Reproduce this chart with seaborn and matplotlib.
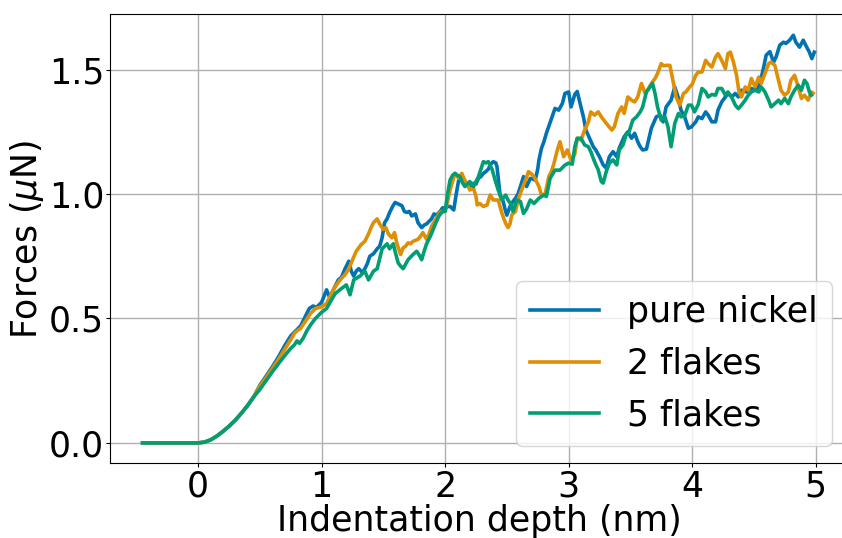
"""
Nanoindentation force-depth curves for pure nickel vs. graphene-flake samples.
"""

import matplotlib
matplotlib.use("Agg")
import matplotlib.pyplot as plt
import pandas as pd
import seaborn as sns

OUTPUT_PATH = "out.png"

# shared elastic onset (all three curves overlap here)
ONSET_X = [-0.45, -0.2, 0.0, 0.05, 0.1, 0.15, 0.2, 0.25, 0.3, 0.35, 0.4, 0.45]
ONSET_Y = [0.0, 0.0, 0.0, 0.003, 0.012, 0.027, 0.046, 0.067, 0.091, 0.119, 0.15, 0.185]

NICKEL_X = [
    0.5, 0.55, 0.6, 0.65, 0.7, 0.75, 0.8, 0.83, 0.87, 0.9, 0.93, 0.96, 1.0,
    1.04, 1.06, 1.08, 1.11, 1.135, 1.16, 1.19, 1.22, 1.24, 1.26, 1.28, 1.3,
    1.33, 1.35, 1.37, 1.39, 1.42, 1.45, 1.47, 1.49, 1.51, 1.53, 1.55, 1.575,
    1.595, 1.62, 1.65, 1.67, 1.69, 1.71, 1.73, 1.76, 1.78, 1.81, 1.83, 1.85,
    1.87, 1.89, 1.91, 1.93, 1.96, 1.98, 2.0, 2.02, 2.04, 2.07, 2.09, 2.11,
    2.135, 2.16, 2.18, 2.2, 2.23, 2.25, 2.27, 2.29, 2.31, 2.33, 2.35, 2.37,
    2.39, 2.41, 2.42, 2.445, 2.47, 2.49, 2.5, 2.53, 2.55, 2.57, 2.59, 2.61,
    2.635, 2.66, 2.69, 2.71, 2.73, 2.75, 2.76, 2.78, 2.8, 2.82, 2.845, 2.865,
    2.89, 2.92, 2.95, 2.97, 3.0, 3.02, 3.05, 3.07, 3.09, 3.12, 3.14, 3.17,
    3.2, 3.22, 3.25, 3.28, 3.305, 3.33, 3.36, 3.39, 3.41, 3.45, 3.48, 3.51,
    3.535, 3.56, 3.58, 3.6, 3.63, 3.67, 3.71, 3.74, 3.765, 3.79, 3.83, 3.86,
    3.89, 3.91, 3.94, 3.97, 3.995, 4.03, 4.05, 4.08, 4.11, 4.13, 4.16, 4.19,
    4.21, 4.24, 4.27, 4.29, 4.32, 4.35, 4.375, 4.4, 4.44, 4.48, 4.52, 4.55,
    4.58, 4.6, 4.63, 4.66, 4.68, 4.71, 4.74, 4.76, 4.79, 4.82, 4.84, 4.87,
    4.9, 4.92, 4.95, 4.97, 4.99,
]
NICKEL_Y = [
    0.232, 0.268, 0.305, 0.345, 0.39, 0.43, 0.455, 0.47, 0.51, 0.54, 0.55,
    0.545, 0.565, 0.615, 0.59, 0.6, 0.63, 0.655, 0.665, 0.7, 0.73, 0.69, 0.67,
    0.69, 0.7, 0.685, 0.7, 0.72, 0.75, 0.76, 0.78, 0.79, 0.825, 0.885, 0.9,
    0.925, 0.95, 0.966, 0.96, 0.953, 0.93, 0.926, 0.93, 0.912, 0.92, 0.885,
    0.865, 0.875, 0.88, 0.89, 0.9, 0.92, 0.915, 0.93, 0.945, 0.94, 0.95, 0.95,
    0.936, 1.0, 1.056, 1.063, 1.05, 1.04, 1.03, 1.043, 1.04, 1.063, 1.07,
    1.083, 1.09, 1.1, 1.12, 1.13, 1.125, 1.11, 0.996, 0.97, 0.93, 0.915,
    0.956, 0.97, 0.983, 1.0, 1.03, 1.07, 1.03, 1.063, 1.06, 1.056, 1.1, 1.137,
    1.183, 1.21, 1.244, 1.28, 1.31, 1.344, 1.337, 1.364, 1.404, 1.41, 1.35,
    1.4, 1.412, 1.37, 1.31, 1.257, 1.224, 1.19, 1.177, 1.15, 1.117, 1.104,
    1.15, 1.17, 1.15, 1.184, 1.23, 1.25, 1.224, 1.244, 1.21, 1.19, 1.177,
    1.18, 1.264, 1.31, 1.317, 1.29, 1.35, 1.377, 1.43, 1.384, 1.337, 1.31,
    1.264, 1.27, 1.29, 1.31, 1.303, 1.33, 1.317, 1.29, 1.29, 1.337, 1.37,
    1.39, 1.404, 1.39, 1.404, 1.39, 1.417, 1.41, 1.424, 1.417, 1.444, 1.51,
    1.558, 1.572, 1.53, 1.55, 1.598, 1.61, 1.605, 1.618, 1.638, 1.61, 1.59,
    1.618, 1.598, 1.57, 1.544, 1.57,
]

FLAKES2_X = [
    0.5, 0.55, 0.6, 0.65, 0.7, 0.75, 0.78, 0.8, 0.83, 0.87, 0.91, 0.95, 1.0,
    1.04, 1.07, 1.095, 1.12, 1.15, 1.19, 1.22, 1.24, 1.28, 1.32, 1.35, 1.38,
    1.4, 1.42, 1.45, 1.47, 1.5, 1.52, 1.54, 1.57, 1.59, 1.61, 1.64, 1.66,
    1.68, 1.7, 1.72, 1.74, 1.78, 1.8, 1.82, 1.85, 1.87, 1.89, 1.92, 1.95,
    1.97, 2.0, 2.02, 2.04, 2.06, 2.08, 2.11, 2.135, 2.155, 2.175, 2.2, 2.23,
    2.25, 2.26, 2.28, 2.31, 2.34, 2.365, 2.39, 2.43, 2.46, 2.49, 2.51, 2.525,
    2.54, 2.57, 2.595, 2.615, 2.635, 2.655, 2.675, 2.7, 2.72, 2.74, 2.76,
    2.78, 2.81, 2.84, 2.86, 2.88, 2.905, 2.93, 2.96, 2.99, 3.02, 3.05, 3.07,
    3.1, 3.13, 3.16, 3.18, 3.21, 3.24, 3.265, 3.305, 3.35, 3.37, 3.4, 3.43,
    3.45, 3.48, 3.51, 3.535, 3.56, 3.59, 3.62, 3.64, 3.67, 3.7, 3.72, 3.75,
    3.77, 3.79, 3.82, 3.85, 3.87, 3.9, 3.93, 3.95, 3.98, 4.0, 4.03, 4.05,
    4.08, 4.11, 4.13, 4.16, 4.19, 4.21, 4.24, 4.27, 4.29, 4.31, 4.335, 4.36,
    4.38, 4.4, 4.43, 4.455, 4.48, 4.51, 4.54, 4.56, 4.59, 4.62, 4.64, 4.67,
    4.7, 4.72, 4.75, 4.78, 4.8, 4.83, 4.86, 4.885, 4.91, 4.94, 4.965, 4.98,
]
FLAKES2_Y = [
    0.228, 0.262, 0.298, 0.335, 0.375, 0.415, 0.44, 0.45, 0.46, 0.49, 0.52,
    0.54, 0.547, 0.56, 0.59, 0.615, 0.635, 0.655, 0.676, 0.7, 0.723, 0.77,
    0.797, 0.81, 0.84, 0.865, 0.885, 0.9, 0.88, 0.858, 0.865, 0.84, 0.824,
    0.845, 0.8, 0.757, 0.784, 0.79, 0.804, 0.8, 0.81, 0.818, 0.83, 0.845,
    0.818, 0.84, 0.87, 0.895, 0.92, 0.93, 0.93, 0.97, 1.016, 1.05, 1.083,
    1.063, 1.083, 1.06, 1.043, 1.016, 1.023, 0.99, 0.956, 0.962, 0.95, 0.956,
    0.996, 0.976, 0.976, 0.922, 0.882, 0.865, 0.88, 0.916, 0.93, 0.983, 1.01,
    1.036, 1.06, 1.09, 1.08, 1.07, 1.05, 1.03, 0.996, 1.0, 1.07, 1.09, 1.12,
    1.17, 1.21, 1.15, 1.177, 1.137, 1.16, 1.224, 1.217, 1.257, 1.29, 1.33,
    1.317, 1.33, 1.31, 1.284, 1.257, 1.27, 1.324, 1.35, 1.324, 1.39, 1.377,
    1.37, 1.39, 1.444, 1.404, 1.417, 1.444, 1.464, 1.484, 1.524, 1.515, 1.517,
    1.517, 1.444, 1.39, 1.357, 1.404, 1.41, 1.43, 1.44, 1.477, 1.49, 1.49,
    1.537, 1.524, 1.51, 1.55, 1.564, 1.537, 1.504, 1.564, 1.57, 1.53, 1.477,
    1.41, 1.39, 1.43, 1.417, 1.464, 1.43, 1.47, 1.444, 1.484, 1.524, 1.53,
    1.517, 1.457, 1.417, 1.397, 1.41, 1.457, 1.477, 1.43, 1.384, 1.397, 1.377,
    1.41, 1.405,
]

FLAKES5_X = [
    0.5, 0.55, 0.6, 0.65, 0.7, 0.75, 0.78, 0.8, 0.82, 0.85, 0.88, 0.91, 0.95,
    1.0, 1.04, 1.08, 1.11, 1.16, 1.2, 1.23, 1.26, 1.31, 1.35, 1.38, 1.42,
    1.45, 1.47, 1.49, 1.53, 1.55, 1.58, 1.6, 1.62, 1.64, 1.66, 1.7, 1.74,
    1.77, 1.79, 1.81, 1.83, 1.85, 1.88, 1.905, 1.93, 1.95, 1.98, 2.0, 2.02,
    2.04, 2.06, 2.08, 2.1, 2.12, 2.14, 2.16, 2.18, 2.2, 2.23, 2.25, 2.27,
    2.29, 2.31, 2.33, 2.35, 2.38, 2.405, 2.43, 2.46, 2.49, 2.51, 2.53, 2.55,
    2.58, 2.61, 2.635, 2.66, 2.69, 2.72, 2.76, 2.8, 2.82, 2.85, 2.89, 2.93,
    2.97, 3.0, 3.03, 3.05, 3.07, 3.1, 3.13, 3.16, 3.18, 3.21, 3.24, 3.265,
    3.28, 3.305, 3.33, 3.36, 3.39, 3.41, 3.44, 3.47, 3.49, 3.52, 3.55, 3.58,
    3.6, 3.63, 3.66, 3.68, 3.7, 3.72, 3.75, 3.78, 3.805, 3.83, 3.86, 3.89,
    3.91, 3.94, 3.97, 3.995, 4.02, 4.05, 4.08, 4.11, 4.13, 4.16, 4.19, 4.21,
    4.24, 4.27, 4.29, 4.32, 4.35, 4.375, 4.4, 4.43, 4.455, 4.48, 4.51, 4.54,
    4.56, 4.59, 4.62, 4.64, 4.67, 4.7, 4.72, 4.75, 4.78, 4.8, 4.83, 4.86,
    4.885, 4.91, 4.93, 4.95, 4.965,
]
FLAKES5_Y = [
    0.215, 0.25, 0.285, 0.318, 0.35, 0.38, 0.394, 0.41, 0.4, 0.42, 0.45,
    0.474, 0.5, 0.525, 0.54, 0.575, 0.6, 0.62, 0.635, 0.595, 0.655, 0.67,
    0.69, 0.655, 0.69, 0.7, 0.74, 0.78, 0.8, 0.78, 0.8, 0.76, 0.723, 0.71,
    0.7, 0.736, 0.757, 0.77, 0.755, 0.736, 0.77, 0.8, 0.83, 0.86, 0.89, 0.912,
    0.93, 0.93, 1.0, 1.056, 1.075, 1.083, 1.075, 1.07, 1.045, 1.03, 1.04,
    1.05, 1.03, 1.05, 1.07, 1.1, 1.13, 1.125, 1.13, 1.1, 1.056, 1.016, 0.976,
    0.996, 0.975, 0.962, 0.93, 0.976, 0.97, 0.922, 0.94, 0.976, 0.962, 0.983,
    0.996, 0.99, 1.063, 1.096, 1.096, 1.116, 1.124, 1.12, 1.19, 1.224, 1.224,
    1.197, 1.19, 1.17, 1.13, 1.097, 1.05, 1.044, 1.09, 1.124, 1.137, 1.117,
    1.177, 1.197, 1.244, 1.25, 1.297, 1.31, 1.33, 1.35, 1.41, 1.43, 1.444,
    1.404, 1.35, 1.297, 1.31, 1.27, 1.19, 1.284, 1.324, 1.31, 1.315, 1.357,
    1.357, 1.33, 1.36, 1.424, 1.41, 1.39, 1.4, 1.397, 1.424, 1.424, 1.397,
    1.41, 1.39, 1.357, 1.343, 1.357, 1.377, 1.397, 1.41, 1.417, 1.41, 1.43,
    1.41, 1.377, 1.35, 1.363, 1.377, 1.363, 1.384, 1.363, 1.39, 1.417, 1.437,
    1.417, 1.457, 1.444, 1.41, 1.397,
]

LABELS = ["pure nickel", "2 flakes", "5 flakes"]


def build_frame() -> pd.DataFrame:
    """Long-form table: one row per (sample, depth) point."""
    frames = []
    for label, xs, ys in zip(
        LABELS,
        (NICKEL_X, FLAKES2_X, FLAKES5_X),
        (NICKEL_Y, FLAKES2_Y, FLAKES5_Y),
    ):
        frames.append(
            pd.DataFrame(
                {"depth": ONSET_X + xs, "force": ONSET_Y + ys, "sample": label}
            )
        )
    return pd.concat(frames, ignore_index=True)


def main() -> None:
    df = build_frame()

    fig = plt.figure(figsize=(8.42, 5.38), dpi=100)
    # axes run slightly past the right edge, as in the cropped original
    ax = fig.add_axes([0.1312, 0.1388, 0.877, 0.8346])

    sns.lineplot(
        data=df,
        x="depth",
        y="force",
        hue="sample",
        hue_order=LABELS,
        palette="colorblind",
        estimator=None,
        sort=False,
        linewidth=2.6,
        ax=ax,
    )

    ax.set_xlim(-0.71, 5.27)
    ax.set_ylim(-0.082, 1.722)
    ax.set_xticks([0, 1, 2, 3, 4, 5])
    ax.set_yticks([0.0, 0.5, 1.0, 1.5])
    ax.grid(True, color="#b0b0b0", linewidth=1.0)
    ax.set_axisbelow(True)
    ax.tick_params(labelsize=25, length=3, pad=1.5)
    ax.set_xlabel("Indentation depth (nm)", fontsize=25, labelpad=0)
    ax.set_ylabel(r"Forces ($\mu$N)", fontsize=25, labelpad=2)

    ax.legend(loc="lower right", fontsize=25, title=None)

    fig.savefig(OUTPUT_PATH, dpi=100)
    plt.close(fig)


if __name__ == "__main__":
    main()
